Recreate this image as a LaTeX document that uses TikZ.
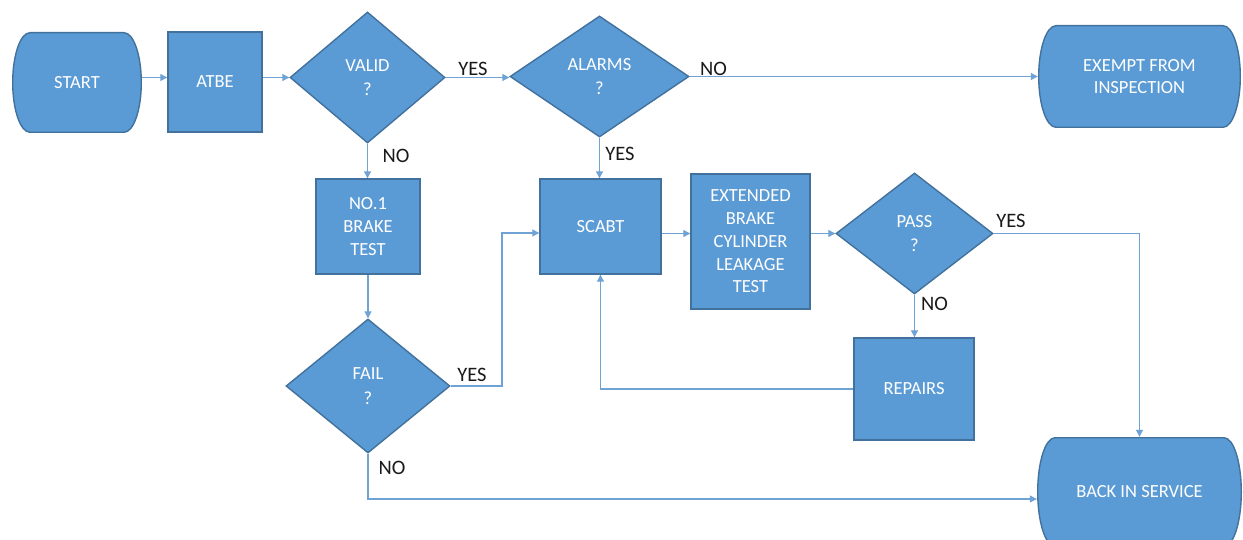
\documentclass[tikz,border=0pt]{standalone}
\usepackage{fontspec}
\setmainfont{Carlito}
\usetikzlibrary{shapes.geometric,arrows.meta}
\definecolor{boxfill}{HTML}{5B9BD5}
\definecolor{boxline}{HTML}{41719C}
\definecolor{connc}{HTML}{6FA3D6}
\definecolor{lbl}{HTML}{1A1A1A}
\begin{document}
\begin{tikzpicture}[x=1pt,y=1pt,
  every node/.style={font=\fontsize{18.5}{22.7}\selectfont, text=white, align=center},
  procbox/.style={rectangle, draw=boxline, fill=boxfill, line width=1.4pt, inner sep=0pt},
  decision/.style={diamond, draw=boxline, fill=boxfill, line width=1.4pt, inner sep=0pt,
    font=\fontsize{18.5}{24.5}\selectfont},
  terminal/.style 2 args={rectangle, inner sep=0pt, minimum width=#1pt, minimum height=#2pt,
    path picture={
      \path[fill=boxfill, draw=boxline, line width=1.4pt]
        ([shift={({-#1/2+18},{#2/2-0.7})}]path picture bounding box.center)
        -- ([shift={({#1/2-18},{#2/2-0.7})}]path picture bounding box.center)
        arc[start angle=90, end angle=-90, x radius=17.3, y radius={#2/2-0.7}]
        -- ([shift={({-#1/2+18},{-#2/2+0.7})}]path picture bounding box.center)
        arc[start angle=270, end angle=90, x radius=17.3, y radius={#2/2-0.7}]
        -- cycle;
    }},
  conn/.style={draw=connc, line width=1.1pt, -{Triangle[length=7pt,width=7pt]}},
  lab/.style={text=lbl, font=\fontsize{20.5}{24}\selectfont, anchor=base, inner sep=0pt}
]
\useasboundingbox (0,0) rectangle (1243,539);
\fill[white] (0,0) rectangle (1243,539);
\clip (0,0) rectangle (1243,539);

% nodes
\node[terminal={130}{101}] (start) at (77,456.5) {START};
\node[procbox, minimum width=94pt, minimum height=100pt] (atbe) at (215,457) {ATBE};
\node[decision, minimum width=155pt, minimum height=131pt] (valid) at (367.5,461.5) {VALID\\?};
\node[decision, minimum width=179pt, minimum height=121pt] (alarms) at (599.5,462.5) {ALARMS\\?};
\node[terminal={203}{103}] (exempt) at (1139.5,462.5) {EXEMPT FROM\\INSPECTION};
\node[procbox, minimum width=104pt, minimum height=95pt] (brake) at (368,312.5) {NO.1\\BRAKE\\TEST};
\node[procbox, minimum width=121pt, minimum height=95pt] (scabt) at (600.5,312.5) {SCABT};
\node[procbox, minimum width=119pt, minimum height=135pt] (ext) at (750.5,297.5) {EXTENDED\\BRAKE\\CYLINDER\\LEAKAGE\\TEST};
\node[decision, minimum width=157pt, minimum height=121pt] (pass) at (914.5,305.5) {PASS\\?};
\node[decision, minimum width=164pt, minimum height=134pt] (fail) at (368,153) {FAIL\\?};
\node[procbox, minimum width=120pt, minimum height=102pt] (repairs) at (914,150) {REPAIRS};
\node[terminal={205}{110}] (back) at (1139.5,47) {BACK IN SERVICE};

% connectors
\coordinate (failbend) at (502,306);
\draw[conn] (start.east |- valid.west) -- (atbe.west |- valid.west);
\draw[conn] (atbe.east |- valid.west) -- (valid.west);
\draw[conn] (valid.east) -- (alarms.west |- valid.east);
\draw[conn] (alarms.east) -- (exempt.west |- alarms.east);
\draw[conn] (valid.south) -- (valid.south |- brake.north);
\draw[conn] (alarms.south) -- (alarms.south |- scabt.north);
\draw[conn] (brake.south) -- (fail.north);
\draw[conn] (fail.east) -| (failbend) -- (scabt.west |- failbend);
\draw[conn] (scabt.east |- pass.west) -- (ext.west |- pass.west);
\draw[conn] (ext.east |- pass.west) -- (pass.west);
\draw[conn] (pass.east) -| (back.north);
\draw[conn] (pass.south) -- (pass.south |- repairs.north);
\draw[conn] (repairs.west) -| (scabt.south);
\draw[conn] (fail.south) |- ([yshift=-7pt]back.west);

% labels
\node[lab] (lyes1) at (473,463) {YES};
\node[lab] (lno1) at (713.5,463) {NO};
\node[lab] (lno2) at (396,376) {NO};
\node[lab] (lyes2) at (620,378) {YES};
\node[lab] (lyes3) at (472,158) {YES};
\node[lab] (lno3) at (392,65) {NO};
\node[lab] (lyes4) at (1011,311) {YES};
\node[lab] (lno4) at (934.5,228) {NO};
\end{tikzpicture}
\end{document}
